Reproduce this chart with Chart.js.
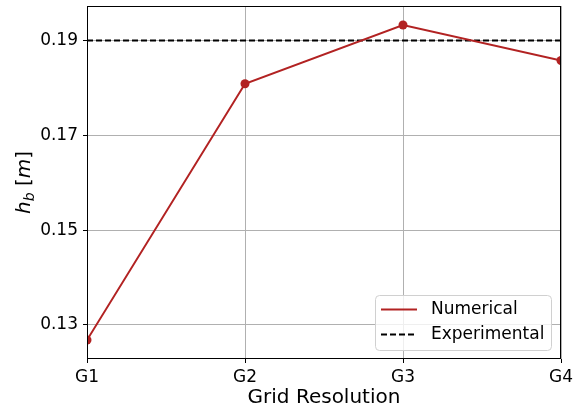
<!DOCTYPE html>
<html>
<head>
<meta charset="utf-8">
<script src="https://cdn.jsdelivr.net/npm/chart.js@4/dist/chart.umd.min.js"></script>
<style>
html,body{margin:0;padding:0;background:#fff;}
#wrap{width:580px;height:414px;}
</style>
</head>
<body>
<div id="wrap"><canvas id="c" width="580" height="414"></canvas></div>
<script>
const categories = ['G1', 'G2', 'G3', 'G4'];
const numerical = [0.1268, 0.1809, 0.1933, 0.1858];
const experimental = [0.19, 0.19, 0.19, 0.19];
const yTicks = [0.13, 0.15, 0.17, 0.19];
const yMin = 0.1228, yMax = 0.1973;
const FONT = "'DejaVu Sans', sans-serif";

const framePlugin = {
  id: 'frame',
  afterDraw(chart) {
    const ctx = chart.ctx, a = chart.chartArea;
    ctx.save();
    ctx.strokeStyle = '#000';
    ctx.lineWidth = 1;
    ctx.strokeRect(Math.round(a.left) + 0.5, Math.round(a.top) + 0.5, Math.round(a.right - a.left) - 1, Math.round(a.bottom - a.top) - 1);
    // y axis title: h_b [m]
    ctx.translate(23, (a.top + a.bottom) / 2);
    ctx.rotate(-Math.PI / 2);
    ctx.fillStyle = '#000';
    ctx.textBaseline = 'alphabetic';
    const parts = [
      {t: 'h', f: 'italic 20px ' + FONT, dy: 0},
      {t: 'b', f: 'italic 14px ' + FONT, dy: 4},
      {t: ' [', f: '20px ' + FONT, dy: 0},
      {t: 'm', f: 'italic 20px ' + FONT, dy: 0},
      {t: ']', f: '20px ' + FONT, dy: 0}
    ];
    let total = 0;
    parts.forEach(p => { ctx.font = p.f; p.w = ctx.measureText(p.t).width; total += p.w; });
    let x = -total / 2;
    parts.forEach(p => { ctx.font = p.f; ctx.fillText(p.t, x, 7 + p.dy); x += p.w; });
    ctx.restore();

    // legend
    ctx.save();
    const lx = 375.5, ly = 295.5, lw = 176, lh = 55, r = 4;
    ctx.beginPath();
    ctx.moveTo(lx + r, ly);
    ctx.arcTo(lx + lw, ly, lx + lw, ly + lh, r);
    ctx.arcTo(lx + lw, ly + lh, lx, ly + lh, r);
    ctx.arcTo(lx, ly + lh, lx, ly, r);
    ctx.arcTo(lx, ly, lx + lw, ly, r);
    ctx.closePath();
    ctx.fillStyle = 'rgba(255,255,255,0.8)';
    ctx.fill();
    ctx.strokeStyle = '#d0d0d0';
    ctx.lineWidth = 1;
    ctx.stroke();
    const ds = chart.data.datasets;
    const rows = [309.5, 334.5];
    ds.forEach((d, i) => {
      ctx.beginPath();
      ctx.strokeStyle = d.borderColor;
      ctx.lineWidth = d.borderWidth;
      ctx.setLineDash(d.borderDash || []);
      ctx.moveTo(381, rows[i]);
      ctx.lineTo(417, rows[i]);
      ctx.stroke();
      ctx.setLineDash([]);
      ctx.fillStyle = '#000';
      ctx.font = '17px ' + FONT;
      ctx.textBaseline = 'middle';
      ctx.textAlign = 'left';
      ctx.fillText(d.label, 431, rows[i]);
    });
    ctx.restore();
  }
};

new Chart(document.getElementById('c'), {
  type: 'line',
  data: {
    labels: categories,
    datasets: [
      {
        label: 'Numerical',
        data: numerical,
        borderColor: '#b22222',
        backgroundColor: '#b22222',
        borderWidth: 2,
        pointRadius: 4.5,
        pointHoverRadius: 4.5,
        pointBorderWidth: 0,
        tension: 0,
        clip: 0
      },
      {
        label: 'Experimental',
        data: experimental,
        borderColor: '#000',
        borderWidth: 2,
        borderDash: [6, 3],
        pointRadius: 0,
        tension: 0,
        clip: 0
      }
    ]
  },
  options: {
    responsive: false,
    animation: false,
    devicePixelRatio: 1,
    layout: { padding: { left: 0, top: 6, right: 19, bottom: 0 } },
    plugins: { legend: { display: false }, tooltip: { enabled: false } },
    scales: {
      x: {
        type: 'category',
        offset: false,
        grid: { color: '#b0b0b0', lineWidth: 1, drawTicks: true, tickLength: 4, tickColor: '#000', tickWidth: 1 },
        border: { display: false },
        ticks: { color: '#000', font: { family: FONT, size: 17 }, padding: 4, maxRotation: 0 },
        title: { display: true, text: 'Grid Resolution', color: '#000', font: { family: FONT, size: 20 }, padding: { top: 0, bottom: 4 } },
        afterFit(s) { s.height = 55; }
      },
      y: {
        min: yMin,
        max: yMax,
        afterBuildTicks(s) { s.ticks = yTicks.map(v => ({ value: v })); },
        grid: { color: '#b0b0b0', lineWidth: 1, drawTicks: true, tickLength: 4, tickColor: '#000', tickWidth: 1 },
        border: { display: false },
        ticks: { color: '#000', font: { family: FONT, size: 17 }, padding: 5, callback: v => v.toFixed(2) },
        afterFit(s) { s.width = 87; s.paddingTop = 0; s.paddingBottom = 0; }
      }
    }
  },
  plugins: [framePlugin]
});
</script>
</body>
</html>
